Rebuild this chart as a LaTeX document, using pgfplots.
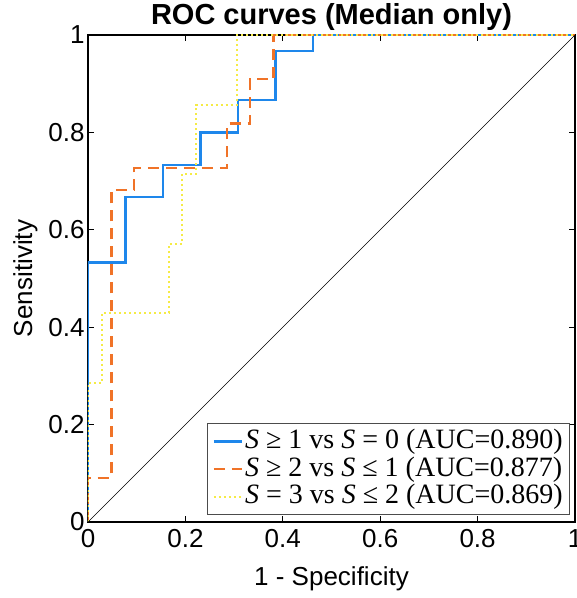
\documentclass[border=0pt]{standalone}
\usepackage{fontspec}
\setmainfont{Liberation Sans}
\newfontfamily\legfont{Liberation Serif}
\usepackage{pgfplots}
\pgfplotsset{compat=1.18}
\definecolor{rocblue}{RGB}{30,135,235}
\definecolor{rocorange}{RGB}{240,115,40}
\definecolor{rocyellow}{RGB}{245,235,70}
\newcommand{\Sv}{\textit{S}}
\begin{document}
\begin{tikzpicture}
\begin{axis}[
  scale only axis,
  width=487pt, height=487pt,
  xmin=0, xmax=1, ymin=0, ymax=1,
  xtick={0,0.2,0.4,0.6,0.8,1},
  ytick={0,0.2,0.4,0.6,0.8,1},
  tick align=inside,
  major tick length=6pt,
  axis line style={line width=1.3pt},
  tick style={line width=1pt, black},
  /pgf/number format/assume math mode=true,
  ticklabel style={font=\fontsize{26}{28}\selectfont},
  xticklabel style={yshift=-4pt},
  xlabel={1 - Specificity},
  ylabel={Sensitivity},
  label style={font=\fontsize{26}{28}\selectfont},
  xlabel style={yshift=-12pt},
  ylabel style={yshift=4pt},
  title={ROC curves (Median only)},
  title style={font=\bfseries\fontsize{29}{32}\selectfont, yshift=-5pt},
  legend style={at={(0.99,0.0144)}, anchor=south east,
    font=\legfont\fontsize{28}{30}\selectfont,
    draw=black!70, line width=0.8pt, row sep=1.5pt,
    inner xsep=5pt, inner ysep=5pt,
    nodes={inner xsep=2pt, inner ysep=0pt, text height=20pt, text depth=6pt}},
  legend cell align=left,
  legend image code/.code={\draw[#1] (0pt,0pt) -- (28pt,0pt);},
]
\addplot[rocblue, line width=2.4pt] coordinates {
  (0,0) (0,0.533) (0.077,0.533) (0.077,0.667) (0.154,0.667) (0.154,0.733)
  (0.231,0.733) (0.231,0.8) (0.308,0.8) (0.308,0.867) (0.385,0.867)
  (0.385,0.967) (0.462,0.967) (0.462,1) (1,1)
};
\addlegendentry{\Sv{} ≥ 1 vs \Sv{} = 0 (AUC=0.890)}
\addplot[rocorange, line width=2.3pt, dash pattern=on 11pt off 7pt] coordinates {
  (0,0) (0,0.091) (0.048,0.091) (0.048,0.682) (0.095,0.682) (0.095,0.727)
  (0.286,0.727) (0.286,0.818) (0.333,0.818) (0.333,0.909) (0.381,0.909)
  (0.381,1) (1,1)
};
\addlegendentry{\Sv{} ≥ 2 vs \Sv{} ≤ 1 (AUC=0.877)}
\addplot[rocyellow, line width=2pt, dash pattern=on 2pt off 3pt] coordinates {
  (0,0) (0,0.286) (0.028,0.286) (0.028,0.429) (0.167,0.429) (0.167,0.571)
  (0.194,0.571) (0.194,0.714) (0.222,0.714) (0.222,0.857) (0.306,0.857)
  (0.306,1) (1,1)
};
\addlegendentry{\Sv{} = 3 vs \Sv{} ≤ 2 (AUC=0.869)}
\addplot[black, line width=0.7pt, forget plot] coordinates {(0,0) (1,1)};
\end{axis}
\pgfresetboundingbox
\useasboundingbox (-88pt,-76pt) rectangle (489pt,522pt);
\end{tikzpicture}
\end{document}
